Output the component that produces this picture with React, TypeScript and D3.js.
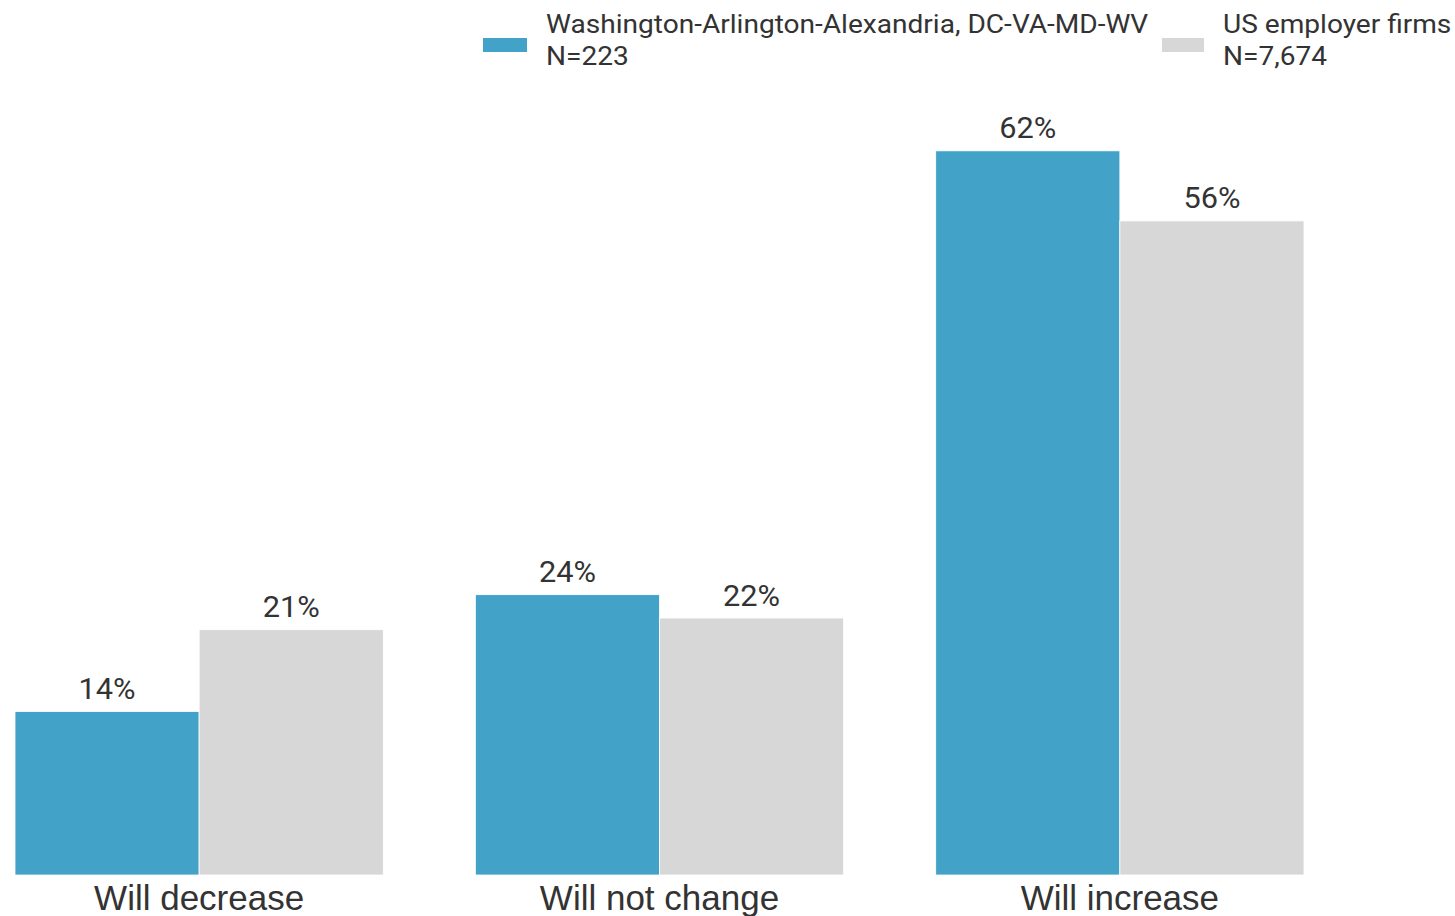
import React from "react";
import * as d3 from "d3";

const categories = ["Will decrease", "Will not change", "Will increase"];
const seriesNames = ["Washington-Arlington-Alexandria, DC-VA-MD-WV", "US employer firms"];
const seriesN = ["N=223", "N=7,674"];
const dcValues = [14, 24, 62];
const usValues = [21, 22, 56];
const colors = ["#42A2C8", "#D7D7D7"];

const W = 1455;
const H = 916;

export default function App() {
  const x0 = d3.scaleBand<string>().domain(categories).range([15, 1304]).paddingInner(0.2).paddingOuter(0);
  const x1 = d3.scaleBand<string>().domain(seriesNames).range([0, x0.bandwidth()]).padding(0);
  const y = d3.scaleLinear().domain([0, 100]).range([875, 875 - 1168]);
  const series = [dcValues, usValues];
  const legendX = [483, 1162];

  return (
    <svg width={W} height={H} style={{ position: "absolute", left: 0, top: 0, background: "#fff" }}>
      {categories.map((c, ci) => (
        <g key={c} transform={`translate(${x0(c)},0)`}>
          {seriesNames.map((s, si) => {
            const v = series[si][ci];
            const bx = x1(s)!;
            return (
              <g key={s}>
                <rect x={bx} y={y(v)} width={x1.bandwidth()} height={y(0) - y(v)} fill={colors[si]} stroke="#fff" strokeWidth={0.8} />
                <text
                  transform={`translate(${bx + x1.bandwidth() / 2},${y(v) - 12.5}) scale(1.06,1)`}
                  textAnchor="middle"
                  fontFamily="Roboto"
                  fontSize={29}
                  fill="#333"
                >
                  {v}%
                </text>
              </g>
            );
          })}
          <text x={x0.bandwidth() / 2} y={910} textAnchor="middle" fontFamily="Liberation Sans, Arial" fontSize={35} fill="#333">
            {c}
          </text>
        </g>
      ))}
      {seriesNames.map((s, si) => (
        <g key={s} transform={`translate(${legendX[si]},0)`}>
          <rect x={0} y={38} width={si === 0 ? 44 : 42} height={14} fill={colors[si]} />
          <g transform={`translate(${si === 0 ? 63 : 61},0) scale(1.08,1)`}>
            <text x={0} y={33} fontFamily="Roboto" fontSize={26} fill="#333">{s}</text>
            <text x={0} y={65} fontFamily="Roboto" fontSize={26} fill="#333">{seriesN[si]}</text>
          </g>
        </g>
      ))}
    </svg>
  );
}
